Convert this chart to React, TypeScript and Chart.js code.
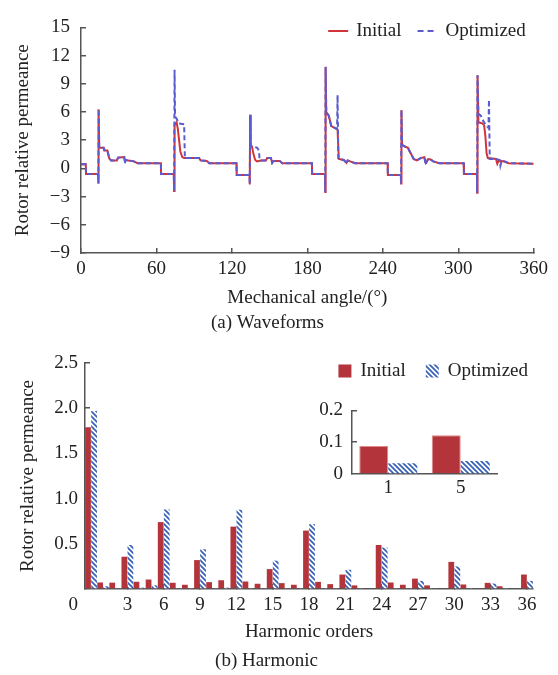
import React, { useEffect, useRef } from 'react';
import { Chart, registerables } from 'chart.js';
Chart.register(...registerables);

// ---------- (a) Waveforms ----------
const angleInitial = [0, 3.8, 4.0, 13.6, 13.8, 14.1, 14.5, 18, 18.5, 21, 22.5, 24, 28.5, 29.5, 34, 35, 37.5, 42, 45, 63.5, 63.7, 73.8, 74.0, 74.4, 76, 77, 78, 79, 80.5, 82, 94, 95, 100, 102, 123.6, 123.8, 134.0, 134.2, 134.5, 135, 136, 137, 138.5, 140, 143, 147, 148, 151, 152, 153, 158, 160, 183.6, 183.8, 194.0, 194.2, 194.5, 195, 197, 199, 202, 204, 205, 209, 211, 212, 215, 218, 243.8, 244, 254.3, 254.5, 254.8, 255.3, 258, 260, 261, 263, 264.5, 267, 270, 273, 274, 276, 278, 280, 285, 304.3, 304.5, 314.8, 315, 315.3, 316, 319, 320.5, 321.5, 322.5, 323.5, 330, 331, 332, 336, 340, 360];
const valueInitial = [0.45, 0.45, -0.6, -0.6, -1.6, 6.3, 2.2, 2.2, 1.9, 1.9, 1.05, 0.85, 0.85, 1.15, 1.2, 0.9, 0.85, 0.75, 0.55, 0.55, -0.6, -0.6, -2.4, 4.6, 4.9, 4.2, 3.0, 1.8, 1.2, 1.1, 1.1, 0.85, 0.8, 0.55, 0.55, -0.7, -0.7, -1.7, 5.7, 2.4, 2.3, 1.6, 0.9, 0.75, 0.85, 0.85, 1.1, 1.1, 0.6, 0.8, 0.8, 0.55, 0.55, -0.6, -0.6, -2.5, 10.8, 6.0, 5.6, 4.5, 4.3, 4.1, 1.0, 0.9, 0.6, 0.85, 0.7, 0.55, 0.55, -0.7, -0.7, -1.6, 6.2, 2.5, 2.3, 2.2, 1.9, 1.4, 1.0, 0.85, 1.1, 1.2, 0.6, 1.0, 0.95, 0.75, 0.55, 0.55, -0.6, -0.6, -2.6, 9.9, 4.9, 4.8, 4.6, 3.5, 1.6, 1.1, 1.0, 0.5, 0.8, 0.75, 0.55, 0.5];

const angleOptimized = [0, 3.8, 4.0, 13.6, 13.8, 14.1, 14.5, 18, 18.5, 21, 22.5, 24, 28.5, 29.5, 34.5, 34.7, 35.5, 37.5, 42, 45, 63.5, 63.7, 73.8, 74.0, 74.4, 74.8, 76, 77.5, 82, 82.6, 94, 95, 100, 102, 123.6, 123.8, 134.0, 134.2, 134.5, 135, 140, 141.5, 142, 143, 147, 148, 151, 152, 153, 158, 160, 183.6, 183.8, 194.0, 194.2, 194.5, 195, 197, 199, 202, 203.6, 204, 204.6, 209, 211, 212, 215, 218, 243.8, 244, 254.3, 254.5, 254.8, 255.3, 258, 260, 261, 263, 264.5, 267, 270, 273, 274, 276, 278, 280, 285, 304.3, 304.5, 314.8, 315, 315.3, 316, 318, 320, 322, 324, 324.4, 325, 330, 333, 333.5, 334.5, 337, 340, 360];
const valueOptimized = [0.45, 0.45, -0.6, -0.6, -1.6, 6.3, 2.2, 2.2, 1.95, 1.9, 1.05, 0.85, 0.85, 1.15, 1.2, 0.5, 0.9, 0.85, 0.75, 0.55, 0.55, -0.6, -0.6, -2.4, 10.5, 5.5, 5.3, 4.8, 4.7, 1.1, 1.1, 0.85, 0.8, 0.55, 0.55, -0.7, -0.7, -1.7, 5.7, 2.4, 2.2, 1.9, 0.9, 0.85, 0.85, 1.1, 1.1, 0.6, 0.8, 0.8, 0.55, 0.55, -0.6, -0.6, -2.5, 10.8, 6.0, 5.6, 4.5, 4.3, 4.2, 7.8, 1.0, 0.9, 0.5, 0.85, 0.7, 0.55, 0.55, -0.7, -0.7, -1.6, 6.2, 2.5, 2.3, 2.2, 1.9, 1.4, 1.0, 0.85, 1.1, 1.2, 0.4, 1.0, 0.95, 0.75, 0.55, 0.55, -0.6, -0.6, -2.6, 9.9, 5.8, 5.6, 5.0, 4.6, 4.3, 7.3, 1.0, 1.0, 0.9, 0.3, 0.8, 0.75, 0.55, 0.5];

// ---------- (b) Harmonic ----------
const harmonicOrders = [0, 1, 2, 3, 4, 5, 6, 7, 8, 9, 10, 11, 12, 13, 14, 15, 16, 17, 18, 19, 20, 21, 22, 23, 24, 25, 26, 27, 28, 29, 30, 31, 32, 33, 34, 35, 36];
const harmonicInitial = [1.79, 0.072, 0.07, 0.357, 0.08, 0.105, 0.74, 0.069, 0.047, 0.32, 0.076, 0.097, 0.69, 0.083, 0.058, 0.22, 0.065, 0.047, 0.646, 0.079, 0.054, 0.16, 0.04, 0, 0.487, 0.072, 0.047, 0.115, 0.04, 0, 0.30, 0.05, 0, 0.068, 0.03, 0, 0.16];
const harmonicOptimized = [1.97, 0.03, 0.01, 0.487, 0.015, 0.04, 0.88, 0.01, 0.01, 0.44, 0.01, 0.015, 0.877, 0.01, 0.01, 0.314, 0.01, 0.01, 0.718, 0.01, 0.01, 0.213, 0.01, 0, 0.458, 0.01, 0.01, 0.09, 0.01, 0, 0.25, 0.01, 0, 0.06, 0.01, 0, 0.09];

// inset
const insetOrders = ['1', '5'];
const insetInitial = [0.088, 0.122];
const insetOptimized = [0.034, 0.041];

const FONT = '"Liberation Serif", "Times New Roman", serif';
const FS = 19;
const TEXT = '#222';
const AXIS = '#555';
const RED_LINE = '#d0343a';
const BLUE_LINE = '#5a5ccf';
const BAR_RED = '#b3353b';
const HATCH_BLUE = '#3b63b8';

function makeHatch(): CanvasPattern | string {
  const c = document.createElement('canvas');
  c.width = 5; c.height = 5;
  const g = c.getContext('2d');
  if (!g) return HATCH_BLUE;
  g.fillStyle = '#fff';
  g.fillRect(0, 0, 5, 5);
  g.strokeStyle = HATCH_BLUE;
  g.lineWidth = 1.8;
  g.beginPath();
  g.moveTo(-1, -1); g.lineTo(6, 6);
  g.moveTo(-1, 4); g.lineTo(1, 6);
  g.moveTo(4, -1); g.lineTo(6, 1);
  g.stroke();
  return g.createPattern(c, 'repeat') || HATCH_BLUE;
}

const minus = (v: number) => (v < 0 ? '\u2212' + Math.abs(v) : String(v));

export default function App() {
  const topRef = useRef<HTMLCanvasElement>(null);
  const botRef = useRef<HTMLCanvasElement>(null);
  const insetRef = useRef<HTMLCanvasElement>(null);

  useEffect(() => {
    document.body.style.margin = '0';
    Chart.defaults.font.family = FONT;
    Chart.defaults.font.size = FS;
    Chart.defaults.color = TEXT;
    const charts: Chart[] = [];
    const hatch = makeHatch();

    const lineLegend = {
      id: 'lineLegend',
      afterDraw(chart: any) {
        const ctx = chart.ctx;
        ctx.save();
        ctx.font = `${FS}px ${FONT}`;
        ctx.textBaseline = 'middle';
        ctx.fillStyle = TEXT;
        const y = 31;
        const w1 = ctx.measureText('Initial').width;
        const w2 = ctx.measureText('Optimized').width;
        const total = 20 + 8 + w1 + 16 + 20 + 8 + w2;
        let x = chart.chartArea.right - 8 - total;
        ctx.lineWidth = 2;
        ctx.strokeStyle = RED_LINE;
        ctx.setLineDash([]);
        ctx.beginPath(); ctx.moveTo(x, y); ctx.lineTo(x + 20, y); ctx.stroke();
        x += 28;
        ctx.fillText('Initial', x, y);
        x += w1 + 16;
        ctx.strokeStyle = BLUE_LINE;
        ctx.setLineDash([6, 4]);
        ctx.beginPath(); ctx.moveTo(x, y); ctx.lineTo(x + 20, y); ctx.stroke();
        ctx.setLineDash([]);
        x += 28;
        ctx.fillText('Optimized', x, y);
        ctx.restore();
      },
    };

    const barLegend = {
      id: 'barLegend',
      afterDraw(chart: any) {
        const ctx = chart.ctx;
        ctx.save();
        ctx.font = `${FS}px ${FONT}`;
        ctx.textBaseline = 'middle';
        ctx.fillStyle = TEXT;
        const y = 36;
        const w1 = ctx.measureText('Initial').width;
        const w2 = ctx.measureText('Optimized').width;
        const total = 13 + 9 + w1 + 20 + 13 + 9 + w2;
        let x = chart.chartArea.right - 5 - total;
        ctx.fillStyle = BAR_RED;
        ctx.fillRect(x, y - 6.5, 13, 13);
        x += 22;
        ctx.fillStyle = TEXT;
        ctx.fillText('Initial', x, y);
        x += w1 + 20;
        ctx.fillStyle = hatch;
        ctx.fillRect(x, y - 6.5, 13, 13);
        x += 22;
        ctx.fillStyle = TEXT;
        ctx.fillText('Optimized', x, y);
        ctx.restore();
      },
    };

    if (topRef.current) {
      charts.push(new Chart(topRef.current, {
        type: 'line',
        data: {
          datasets: [
            {
              label: 'Initial',
              data: angleInitial.map((a, i) => ({ x: a, y: valueInitial[i] })),
              borderColor: RED_LINE, borderWidth: 2, pointRadius: 0, tension: 0, order: 1,
            },
            {
              label: 'Optimized',
              data: angleOptimized.map((a, i) => ({ x: a, y: valueOptimized[i] })),
              borderColor: BLUE_LINE, borderWidth: 2, borderDash: [5, 3], pointRadius: 0, tension: 0, order: 0,
            },
          ],
        },
        options: {
          animation: false,
          responsive: false,
          layout: { padding: { top: 17, right: 23, left: 0, bottom: 0 } },
          plugins: {
            legend: { display: false },
            tooltip: { enabled: false },
            title: { display: true, position: 'bottom', text: '(a) Waveforms', color: TEXT, font: { size: FS, weight: 'normal' }, padding: { top: 4, bottom: 1 } },
          },
          scales: {
            x: {
              type: 'linear', min: 0, max: 360,
              afterFit: (s: any) => { s.height = 54.2; },
              border: { color: AXIS, width: 1.5 },
              grid: { drawOnChartArea: false, tickLength: -5, color: AXIS, lineWidth: 1.5 },
              ticks: { stepSize: 60, padding: 10, maxRotation: 0, autoSkip: false, color: TEXT },
              title: { display: true, text: 'Mechanical angle/(°)', color: TEXT, padding: { top: 0, bottom: -2 } },
            },
            y: {
              min: -9, max: 15,
              afterFit: (s: any) => { s.width = 81; },
              border: { color: AXIS, width: 1.5 },
              grid: { drawOnChartArea: false, tickLength: -5, color: AXIS, lineWidth: 1.5 },
              ticks: { stepSize: 3, padding: 16, autoSkip: false, color: TEXT, callback: (v: any) => minus(Number(v)) },
              title: { display: true, text: 'Rotor relative permeance', color: TEXT, padding: { top: 11.6, bottom: 0 } },
            },
          },
        },
        plugins: [lineLegend],
      } as any));
    }

    if (botRef.current) {
      charts.push(new Chart(botRef.current, {
        type: 'bar',
        data: {
          labels: harmonicOrders.map(String),
          datasets: [
            { label: 'Initial', data: harmonicInitial, backgroundColor: BAR_RED, borderWidth: 0, barPercentage: 0.95, categoryPercentage: 1 },
            { label: 'Optimized', data: harmonicOptimized, backgroundColor: hatch, borderWidth: 0, barPercentage: 0.95, categoryPercentage: 1 },
          ],
        },
        options: {
          animation: false,
          responsive: false,
          layout: { padding: { top: 23, right: 25, left: 0, bottom: 0 } },
          plugins: {
            legend: { display: false },
            tooltip: { enabled: false },
            title: { display: true, position: 'bottom', text: '(b) Harmonic', color: TEXT, font: { size: FS, weight: 'normal' }, padding: { top: 2, bottom: 3 } },
          },
          scales: {
            x: {
              type: 'category', offset: true,
              afterFit: (s: any) => { s.height = 58.2; },
              border: { color: AXIS, width: 1.5 },
              grid: {
                offset: false, drawOnChartArea: false, tickLength: -5, lineWidth: 1.5,
                tickColor: (c: any) => (c.index > 0 && harmonicOrders[c.index] % 3 === 0 ? AXIS : 'rgba(0,0,0,0)'),
              },
              ticks: {
                padding: 10, maxRotation: 0, autoSkip: false, color: TEXT,
                callback: (_v: any, i: number) => (harmonicOrders[i] > 0 && harmonicOrders[i] % 3 === 0 ? String(harmonicOrders[i]) : ''),
              },
              title: { display: true, text: 'Harmonic orders', color: TEXT, padding: { top: 0, bottom: 3.8 } },
            },
            y: {
              min: 0, max: 2.5,
              afterFit: (s: any) => { s.width = 85; },
              border: { color: AXIS, width: 1.5 },
              grid: {
                drawOnChartArea: false, tickLength: -5, lineWidth: 1.5,
                tickColor: (c: any) => (c.tick && c.tick.value === 0 ? 'rgba(0,0,0,0)' : AXIS),
              },
              ticks: {
                stepSize: 0.5, padding: 12, autoSkip: false, color: TEXT, font: { lineHeight: 1.68 },
                callback: (v: any) => (Number(v) === 0 ? ['', '0'] : Number(v).toFixed(1)),
              },
              title: { display: true, text: 'Rotor relative permeance', color: TEXT, padding: { top: 16.6, bottom: 0 } },
            },
          },
        },
        plugins: [barLegend],
      } as any));
    }

    if (insetRef.current) {
      charts.push(new Chart(insetRef.current, {
        type: 'bar',
        data: {
          labels: insetOrders,
          datasets: [
            { label: 'Initial', data: insetInitial, backgroundColor: BAR_RED, borderColor: '#e08a8a', borderWidth: 1, barPercentage: 1, categoryPercentage: 0.8 },
            { label: 'Optimized', data: insetOptimized, backgroundColor: hatch, borderWidth: 0, barPercentage: 1, categoryPercentage: 0.8 },
          ],
        },
        options: {
          animation: false,
          responsive: false,
          layout: { padding: { top: 15, right: 13, left: 0, bottom: 0 } },
          plugins: { legend: { display: false }, tooltip: { enabled: false }, title: { display: false } },
          scales: {
            x: {
              type: 'category', offset: true,
              afterFit: (s: any) => { s.height = 26; },
              border: { color: AXIS, width: 1.5 },
              grid: { display: true, drawOnChartArea: false, drawTicks: false },
              ticks: { padding: 3, color: TEXT },
            },
            y: {
              min: 0, max: 0.2,
              afterFit: (s: any) => { s.width = 52; },
              border: { color: AXIS, width: 1.5 },
              grid: {
                drawOnChartArea: false, tickLength: -5, lineWidth: 1.5,
                tickColor: (c: any) => (c.tick && c.tick.value === 0 ? 'rgba(0,0,0,0)' : AXIS),
              },
              ticks: { stepSize: 0.1, padding: 14, autoSkip: false, color: TEXT, callback: (v: any) => (Number(v) === 0 ? '0' : Number(v).toFixed(1)) },
            },
          },
        },
      } as any));
    }

    return () => { charts.forEach((c) => c.destroy()); };
  }, []);

  return (
    <div style={{ position: 'relative', width: 558, height: 675, background: '#fff' }}>
      <canvas ref={topRef} width={558} height={335} style={{ position: 'absolute', left: 0, top: 0, width: 558, height: 335 }} />
      <canvas ref={botRef} width={558} height={340} style={{ position: 'absolute', left: 0, top: 335, width: 558, height: 340 }} />
      <canvas ref={insetRef} width={210} height={115} style={{ position: 'absolute', left: 300, top: 385, width: 210, height: 115 }} />
    </div>
  );
}
